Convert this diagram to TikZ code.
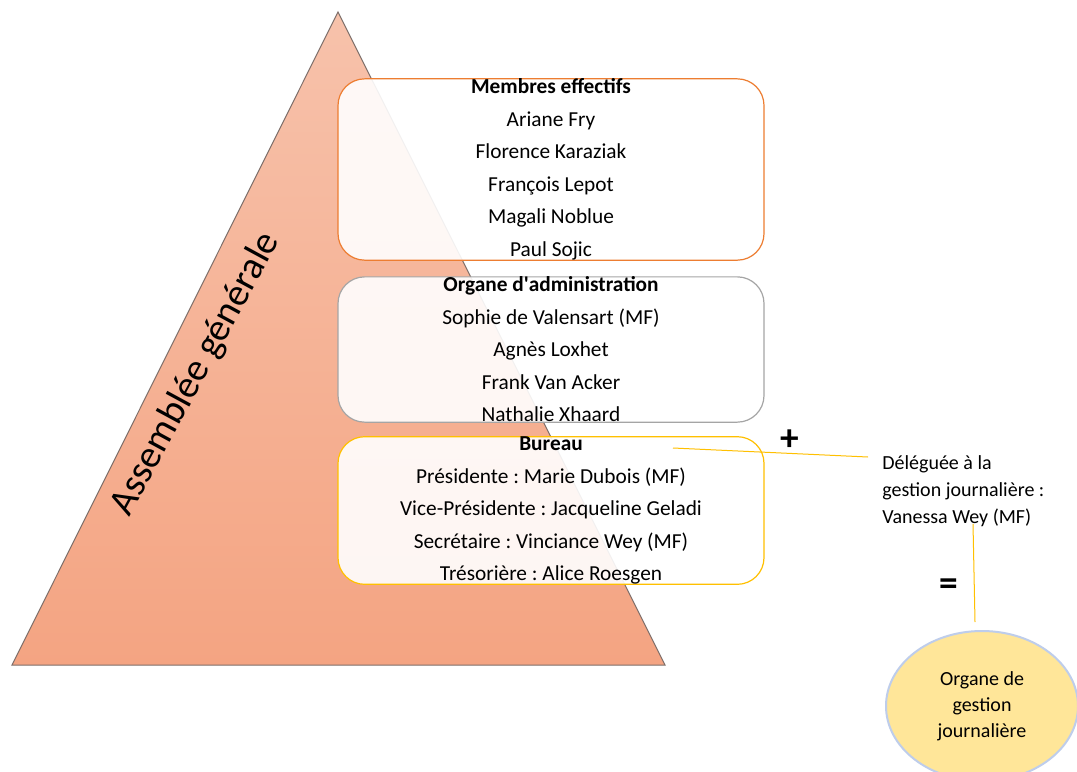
\documentclass[tikz,border=0pt]{standalone}
\usepackage{fontspec}
\setmainfont{Carlito}
\frenchspacing
\usetikzlibrary{positioning, shapes.geometric, calc}
\definecolor{pyrtop}{RGB}{247,194,171}
\definecolor{pyrbot}{RGB}{244,164,130}
\definecolor{pyredge}{RGB}{125,110,105}
\definecolor{orangeline}{RGB}{237,125,49}
\definecolor{grayline}{RGB}{165,165,165}
\definecolor{goldline}{RGB}{255,192,0}
\definecolor{ovalfill}{RGB}{255,230,153}
\definecolor{ovalline}{RGB}{190,205,235}

\begin{document}
\begin{tikzpicture}[x=0.75pt, y=-0.75pt,
  groupbox/.style={draw, line width=0.9pt, rounded corners=20pt, fill=white, fill opacity=0.9, text opacity=1, align=center, minimum width=319.5pt, inner sep=0pt, font=\fontsize{16}{24.4}\selectfont},
  sign/.style={font=\fontsize{28}{28}\selectfont},
  link/.style={draw=goldline, line width=0.75pt}]
\path[fill=white, use as bounding box] (0,0) rectangle (1077,771);
% pyramid
\path[draw=pyredge, line width=0.75pt, top color=pyrtop, bottom color=pyrbot] (338,12) -- (665,665) -- (12,665) -- cycle;
\node[rotate=61.5, font=\fontsize{29}{35}\selectfont] (ag) at (196,374) {Assemblée générale};
% groups
\node[groupbox, draw=orangeline, minimum height=135.75pt] (membres) at (551,169.5) {\textbf{Membres effectifs}\\Ariane Fry\\Florence Karaziak\\François Lepot\\Magali Noblue\\Paul Sojic};
\node[groupbox, draw=grayline, minimum height=107.25pt] (admin) at (551,349.5) {\textbf{Organe d\textquotesingle administration}\\Sophie de Valensart (MF)\\Agnès Loxhet\\Frank Van Acker\\Nathalie Xhaard};
\node[groupbox, draw=goldline, minimum height=107.25pt] (bureau) at (551,510.5) {\textbf{Bureau}\\Présidente : Marie Dubois (MF)\\Vice-Présidente : Jacqueline Geladi\\Secrétaire : Vinciance Wey (MF)\\Trésorière : Alice Roesgen};
% daily management
\node[align=left, anchor=north west, inner sep=0pt, font=\fontsize{15}{20.25}\selectfont] (delegue) at (882,455) {Déléguée à la\\gestion journalière :\\Vanessa Wey (MF)};
\node[ellipse, draw=ovalline, line width=1.5pt, fill=ovalfill, minimum width=144pt, minimum height=112.5pt, align=center, font=\fontsize{15}{19.5}\selectfont] (organe) at (982,706) {Organe de\\gestion\\journalière};
\node[sign] (plus) at (790,440) {\textbf{+}};
\node[sign] (egal) at (949,587) {\textbf{=}};
\coordinate (bureaulink) at (673,448);
\draw[link] (bureaulink) -- ([xshift=-10.5pt, yshift=-1.5pt]delegue.north west);
\draw[link] ([xshift=-6.75pt, yshift=2pt]organe.north |- delegue.south) -- ([xshift=-5.25pt, yshift=6pt]organe.north);
\end{tikzpicture}
\end{document}
